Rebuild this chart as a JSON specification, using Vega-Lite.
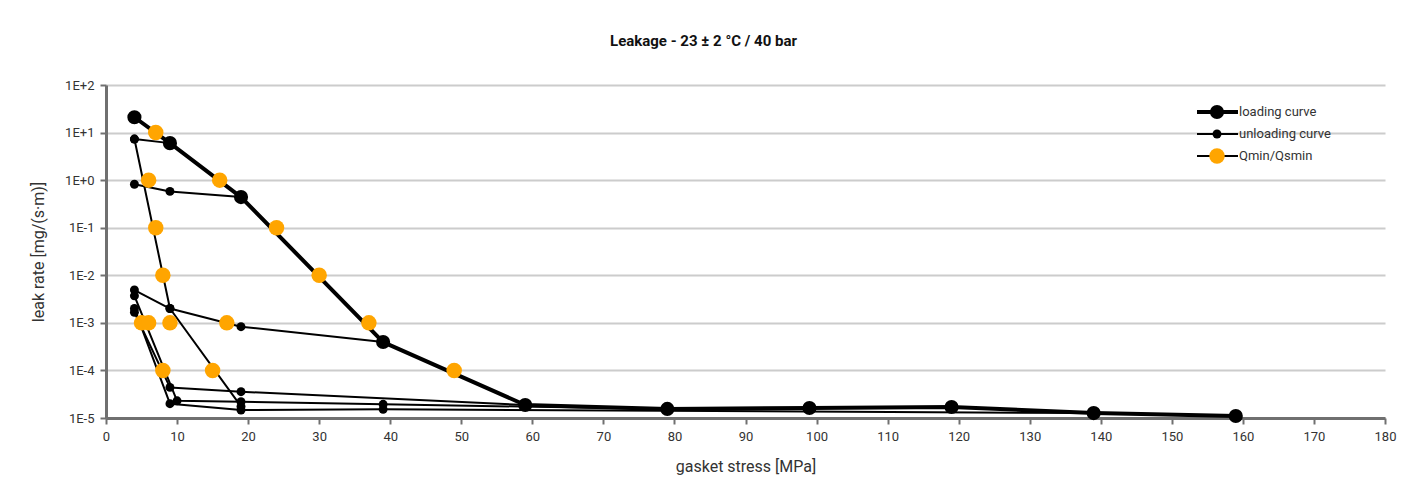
{
  "$schema": "https://vega.github.io/schema/vega-lite/v6.json",
  "width": 1279,
  "height": 333,
  "autosize": {"type": "none"},
  "padding": {"left": 106, "top": 85, "right": 24, "bottom": 80},
  "background": "white",
  "title": {"text": "Leakage - 23 ± 2 °C / 40 bar", "font": "Roboto", "fontSize": 15, "fontWeight": "bold", "color": "#111111", "anchor": "middle", "dx": -42, "offset": 30},
  "data": {"values": [
    {"s": "loading curve", "g": "L", "x": 4, "y": 21},
    {"s": "loading curve", "g": "L", "x": 9, "y": 6.0},
    {"s": "loading curve", "g": "L", "x": 19, "y": 0.44},
    {"s": "loading curve", "g": "L", "x": 39, "y": 0.000395},
    {"s": "loading curve", "g": "L", "x": 59, "y": 0.0000188},
    {"s": "loading curve", "g": "L", "x": 79, "y": 0.0000155},
    {"s": "loading curve", "g": "L", "x": 99, "y": 0.0000162},
    {"s": "loading curve", "g": "L", "x": 119, "y": 0.000017},
    {"s": "loading curve", "g": "L", "x": 139, "y": 0.0000127},
    {"s": "loading curve", "g": "L", "x": 159, "y": 0.000011},
    {"s": "unloading curve", "g": "u1", "x": 9, "y": 6.0},
    {"s": "unloading curve", "g": "u1", "x": 4, "y": 7.3},
    {"s": "unloading curve", "g": "u2", "x": 19, "y": 0.44},
    {"s": "unloading curve", "g": "u2", "x": 9, "y": 0.58},
    {"s": "unloading curve", "g": "u2", "x": 4, "y": 0.82},
    {"s": "unloading curve", "g": "u3", "x": 39, "y": 0.000395},
    {"s": "unloading curve", "g": "u3", "x": 19, "y": 0.00083},
    {"s": "unloading curve", "g": "u3", "x": 9, "y": 0.002},
    {"s": "unloading curve", "g": "u3", "x": 4, "y": 0.0049},
    {"s": "unloading curve", "g": "u4", "x": 4, "y": 7.3},
    {"s": "unloading curve", "g": "u4", "x": 9, "y": 0.002},
    {"s": "unloading curve", "g": "u4", "x": 19, "y": 0.0000175},
    {"s": "unloading curve", "g": "u5", "x": 59, "y": 0.0000188},
    {"s": "unloading curve", "g": "u5", "x": 19, "y": 0.0000357},
    {"s": "unloading curve", "g": "u5", "x": 9, "y": 0.000044},
    {"s": "unloading curve", "g": "u5", "x": 4, "y": 0.00167},
    {"s": "unloading curve", "g": "u6", "x": 79, "y": 0.0000155},
    {"s": "unloading curve", "g": "u6", "x": 39, "y": 0.0000194},
    {"s": "unloading curve", "g": "u6", "x": 19, "y": 0.000022},
    {"s": "unloading curve", "g": "u6", "x": 10, "y": 0.000023},
    {"s": "unloading curve", "g": "u6", "x": 4, "y": 0.0037},
    {"s": "unloading curve", "g": "u7", "x": 139, "y": 0.0000127},
    {"s": "unloading curve", "g": "u7", "x": 39, "y": 0.0000152},
    {"s": "unloading curve", "g": "u7", "x": 19, "y": 0.0000147},
    {"s": "unloading curve", "g": "u7", "x": 9, "y": 0.00002},
    {"s": "unloading curve", "g": "u7", "x": 4, "y": 0.002},
    {"s": "Qmin/Qsmin", "g": "q1", "x": 7, "y": 10},
    {"s": "Qmin/Qsmin", "g": "q2", "x": 6, "y": 1},
    {"s": "Qmin/Qsmin", "g": "q3", "x": 16, "y": 1},
    {"s": "Qmin/Qsmin", "g": "q4", "x": 7, "y": 0.1},
    {"s": "Qmin/Qsmin", "g": "q5", "x": 24, "y": 0.1},
    {"s": "Qmin/Qsmin", "g": "q6", "x": 8, "y": 0.01},
    {"s": "Qmin/Qsmin", "g": "q7", "x": 30, "y": 0.01},
    {"s": "Qmin/Qsmin", "g": "q8", "x": 5, "y": 0.001},
    {"s": "Qmin/Qsmin", "g": "q9", "x": 6, "y": 0.001},
    {"s": "Qmin/Qsmin", "g": "q10", "x": 9, "y": 0.001},
    {"s": "Qmin/Qsmin", "g": "q11", "x": 17, "y": 0.001},
    {"s": "Qmin/Qsmin", "g": "q12", "x": 37, "y": 0.001},
    {"s": "Qmin/Qsmin", "g": "q13", "x": 8, "y": 0.0001},
    {"s": "Qmin/Qsmin", "g": "q14", "x": 15, "y": 0.0001},
    {"s": "Qmin/Qsmin", "g": "q15", "x": 49, "y": 0.0001}
  ]},
  "encoding": {
    "x": {"field": "x", "type": "quantitative", "scale": {"domain": [0, 180], "nice": false, "zero": false},
      "axis": {"title": "gasket stress [MPa]", "values": [0,10,20,30,40,50,60,70,80,90,100,110,120,130,140,150,160,170,180], "grid": false, "labelFlush": false, "labelOverlap": false, "labelPadding": 6, "titlePadding": 15}},
    "y": {"field": "y", "type": "quantitative", "scale": {"type": "log", "domain": [0.00001, 100], "nice": false},
      "axis": {"title": "leak rate [mg/(s·m)]", "values": [0.00001, 0.0001, 0.001, 0.01, 0.1, 1, 10, 100], "grid": true, "labelOverlap": false, "labelPadding": 6, "titlePadding": 18,
        "labelExpr": "'1E' + (datum.value >= 1 ? '+' : '') + round(log(datum.value) / LN10)"}}
  },
  "layer": [
    {
      "mark": {"type": "line", "color": "black", "strokeJoin": "round", "clip": false},
      "encoding": {
        "detail": {"field": "g", "type": "nominal"},
        "strokeWidth": {"field": "s", "type": "nominal", "sort": ["loading curve", "unloading curve", "Qmin/Qsmin"],
          "scale": {"type": "ordinal", "range": [4, 2, 2]},
          "legend": {"orient": "none", "legendX": 1089, "legendY": 19, "title": null, "symbolType": "stroke", "symbolSize": 1681, "symbolStrokeColor": "black", "clipHeight": 16, "rowPadding": 6, "padding": 0, "labelOpacity": 0, "labelExpr": "''"}}
      }
    },
    {
      "mark": {"type": "circle", "opacity": 1},
      "encoding": {
        "color": {"field": "s", "type": "nominal",
          "scale": {"domain": ["loading curve", "unloading curve", "Qmin/Qsmin"], "range": ["#000000", "#000000", "#FFA500"]},
          "legend": {"orient": "none", "legendX": 1103, "legendY": 19, "title": null, "clipHeight": 16, "rowPadding": 6, "padding": 0, "labelOffset": 14, "labelFont": "Roboto", "labelFontSize": 13, "labelColor": "#333333", "symbolStrokeWidth": 0}},
        "size": {"field": "s", "type": "nominal",
          "scale": {"type": "ordinal", "domain": ["loading curve", "unloading curve", "Qmin/Qsmin"], "range": [200, 80, 240]},
          "legend": {"orient": "none", "legendX": 1103, "legendY": 19, "title": null, "clipHeight": 16, "rowPadding": 6, "padding": 0, "labelOffset": 14, "labelFont": "Roboto", "labelFontSize": 13, "labelColor": "#333333", "symbolStrokeWidth": 0}}
      }
    }
  ],
  "config": {
    "view": {"stroke": null},
    "axis": {"domainColor": "#707070", "domainWidth": 3, "tickColor": "#707070", "tickWidth": 2, "tickSize": 6,
      "labelFont": "Roboto", "labelFontSize": 13, "labelColor": "#333333",
      "titleFont": "Roboto", "titleFontSize": 16, "titleFontWeight": "normal", "titleColor": "#333333",
      "gridColor": "#cccccc", "gridWidth": 2}
  }
}
